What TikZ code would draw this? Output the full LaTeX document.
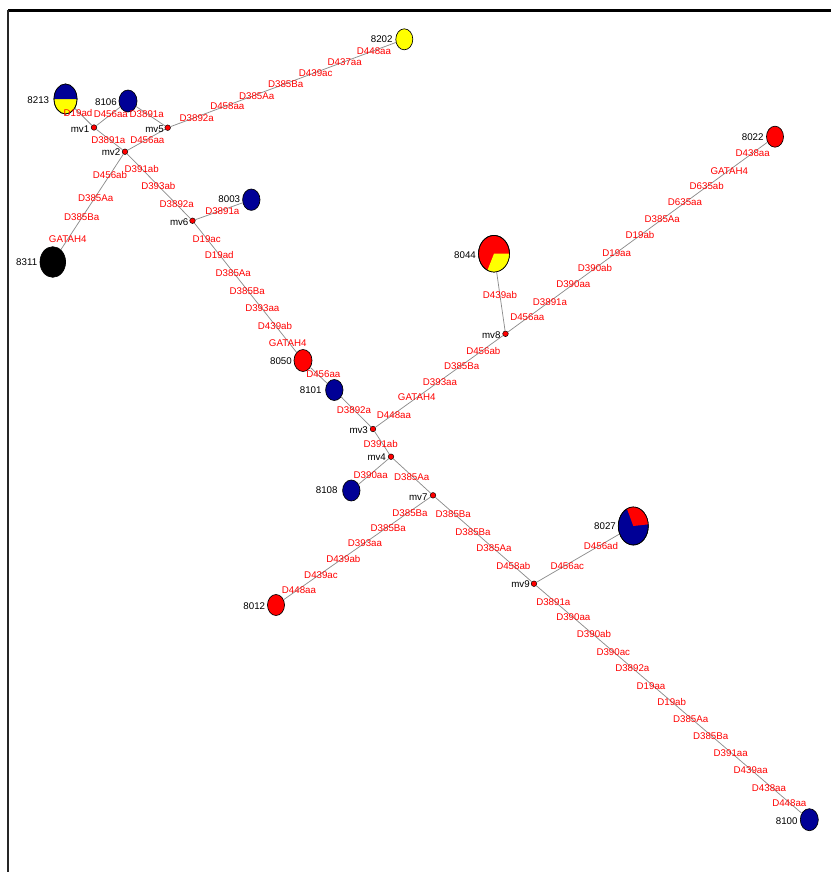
\documentclass[tikz,border=0pt]{standalone}
\usepackage{fontspec}
\setmainfont{Liberation Sans}
\usetikzlibrary{shapes.geometric}
\definecolor{hnavy}{RGB}{0,0,150}
\definecolor{hred}{RGB}{255,0,0}
\definecolor{hyel}{RGB}{255,255,0}
\definecolor{edgegray}{RGB}{140,140,140}
\begin{document}
\begin{tikzpicture}[x=0.75pt,y=-0.75pt,
  hap/.style 2 args={ellipse, draw=black, line width=0.5pt, inner sep=0pt, minimum width={#1*1.5pt}, minimum height={#2*1.5pt}},
  mv/.style={circle, draw=black, fill=hred, line width=0.35pt, inner sep=0pt, minimum size=4.2pt},
  edge/.style={draw=edgegray, line width=0.55pt},
  mut/.style={text=hred, font=\fontsize{7.3}{8}\selectfont, inner sep=0pt},
  nm/.style={text=black, font=\fontsize{7.3}{8}\selectfont, inner sep=0pt}]
\useasboundingbox (0,0) rectangle (831,872);
% frame
\draw[line width=2.2pt] (8,10.9) -- (831,10.9);
\draw[line width=1.4pt, black!85] (8.3,10) -- (8.3,872);
% haplotype nodes
\node[hap={11.5}{15}, fill=hyel] (n8213) at (65.5,99) {};
\node[hap={9}{11}, fill=hnavy] (n8106) at (128,101) {};
\node[hap={12.8}{15.3}, fill=black] (n8311) at (52.8,262) {};
\node[hap={8.5}{10.5}, fill=hyel] (n8202) at (404.3,39.3) {};
\node[hap={8.7}{10.7}, fill=hnavy] (n8003) at (251.3,199.7) {};
\node[hap={9}{11}, fill=hred] (n8050) at (303,360.5) {};
\node[hap={8.7}{10.5}, fill=hnavy] (n8101) at (334.3,390) {};
\node[hap={8.7}{10.5}, fill=hnavy] (n8108) at (351.3,490.5) {};
\node[hap={15.5}{18.3}, fill=hred] (n8044) at (494,253.7) {};
\node[hap={8.5}{10.5}, fill=hred] (n8022) at (775,136.7) {};
\node[hap={8.5}{10.5}, fill=hred] (n8012) at (276,605) {};
\node[hap={15}{19}, fill=hnavy] (n8027) at (633.3,526) {};
\node[hap={9}{11}, fill=hnavy] (n8100) at (809.3,819.7) {};
% pie slices
\fill[hnavy] (n8213.center) -- ++(180:11.5 and 15) arc[start angle=180,end angle=360,x radius=11.5,y radius=15] -- cycle;
\draw[line width=0.5pt] (n8213.center) ellipse [x radius=11.5, y radius=15];
\fill[hyel] (n8044.center) -- ++(0:15.5 and 18.3) arc[start angle=0,end angle=115,x radius=15.5,y radius=18.3] -- cycle;
\draw[line width=0.5pt] (n8044.center) ellipse [x radius=15.5, y radius=18.3];
\fill[hred] (n8027.center) -- ++(-115:15 and 19) arc[start angle=-115,end angle=-5,x radius=15,y radius=19] -- cycle;
\draw[line width=0.5pt] (n8027.center) ellipse [x radius=15, y radius=19];
% median vectors
\node[mv] (mv1) at (94,127.5) {};
\node[mv] (mv2) at (125,151.7) {};
\node[mv] (mv3) at (373,429) {};
\node[mv] (mv4) at (391,456.7) {};
\node[mv] (mv5) at (167.7,127.7) {};
\node[mv] (mv6) at (192.5,220.7) {};
\node[mv] (mv7) at (433,495.3) {};
\node[mv] (mv8) at (505.5,333.8) {};
\node[mv] (mv9) at (534,583.7) {};
% edges
\foreach \a/\b in {n8213/mv1, n8106/mv1, n8106/mv5, mv5/n8202, mv1/mv2, mv5/mv2,
  mv2/n8311, mv2/mv6, mv6/n8003, mv6/n8050, n8050/n8101, n8101/mv3, mv3/mv8,
  mv8/n8044, mv8/n8022, mv3/mv4, mv4/n8108, mv4/mv7, mv7/n8012, mv7/mv9,
  mv9/n8027, mv9/n8100}
  \draw[edge] (\a) -- (\b);
% name labels
\foreach \px/\py/\t [count=\i] in {38.3/100/8213, 106/101.7/8106, 26.7/261.7/8311,
  381.7/39.3/8202, 229.3/199.3/8003, 281/360.7/8050, 310.7/390/8101, 326.7/490/8108,
  465/255/8044, 752.7/136.7/8022, 254.3/605.7/8012, 605/525.7/8027, 786.7/820.7/8100,
  80/128.7/mv1, 111/152.5/mv2, 358.7/430/mv3, 376.7/457/mv4, 154.5/128.7/mv5,
  179.2/221.7/mv6, 418.3/497/mv7, 491.3/334.7/mv8, 520.5/583.7/mv9}
  \node[nm] (name\i) at (\px,\py) {\t};
% mutation labels
\foreach \px/\py/\t [count=\i] in {
  78/112.7/D19ad, 110.8/113.7/D456aa, 146.7/114/D3891a, 108.3/140/D3891a,
  147.3/140/D456aa, 110/175.3/D456ab, 95.7/197.7/D385Aa, 81.7/217/D385Ba,
  67.7/239.3/GATAH4, 141.7/168.7/D391ab, 158.3/186.3/D393ab, 176.7/204/D3892a,
  196.7/117.7/D3892a, 227.3/106.3/D458aa, 256.7/95.7/D385Aa, 285.7/84/D385Ba,
  315.7/72.7/D439ac, 344.7/62/D437aa, 374/50.7/D448aa,
  222.3/210.7/D3891a, 206.7/239.3/D19ac, 219.3/255/D19ad, 233.3/272.7/D385Aa,
  247.3/290.7/D385Ba, 262.3/308.3/D393aa, 275/326/D439ab, 287.7/343.3/GATAH4,
  752.7/153.3/D438aa, 729.3/170.7/GATAH4, 706.7/186/D635ab, 685/201.7/D635aa,
  662.3/219.3/D385Aa, 640/235/D19ab, 616.7/252.7/D19aa, 595/268/D390ab,
  573.3/283.7/D390aa, 550/301.7/D3891a, 527.3/317/D456aa, 500/294.7/D439ab,
  483.3/350.7/D456ab, 461.7/365.7/D385Ba, 440/381.7/D393aa, 416.7/397/GATAH4,
  394/415/D448aa, 323.3/374.3/D456aa, 354/410.3/D3892a, 380.7/443.7/D391ab,
  370.7/475/D390aa, 411.7/476.7/D385Aa,
  410/512.7/D385Ba, 388.3/528.3/D385Ba, 365/543.3/D393aa, 343.3/559.3/D439ab,
  321/575/D439ac, 299/590/D448aa,
  453.3/514.3/D385Ba, 473/532/D385Ba, 494/548.3/D385Aa, 513.3/566/D458ab,
  567.3/566/D456ac, 601/545.7/D456ad,
  553.3/601.7/D3891a, 573.3/617/D390aa, 594/634.3/D390ab, 613.3/652.3/D390ac,
  632.3/668.3/D3892a, 651/686/D19aa, 671.7/701.7/D19ab, 690.7/719/D385Aa,
  710.7/736/D385Ba, 730.7/752.7/D391aa, 750.7/770.3/D439aa, 769/788/D438aa,
  789.3/802.7/D448aa}
  \node[mut] (mut\i) at (\px,\py) {\t};
\end{tikzpicture}
\end{document}
